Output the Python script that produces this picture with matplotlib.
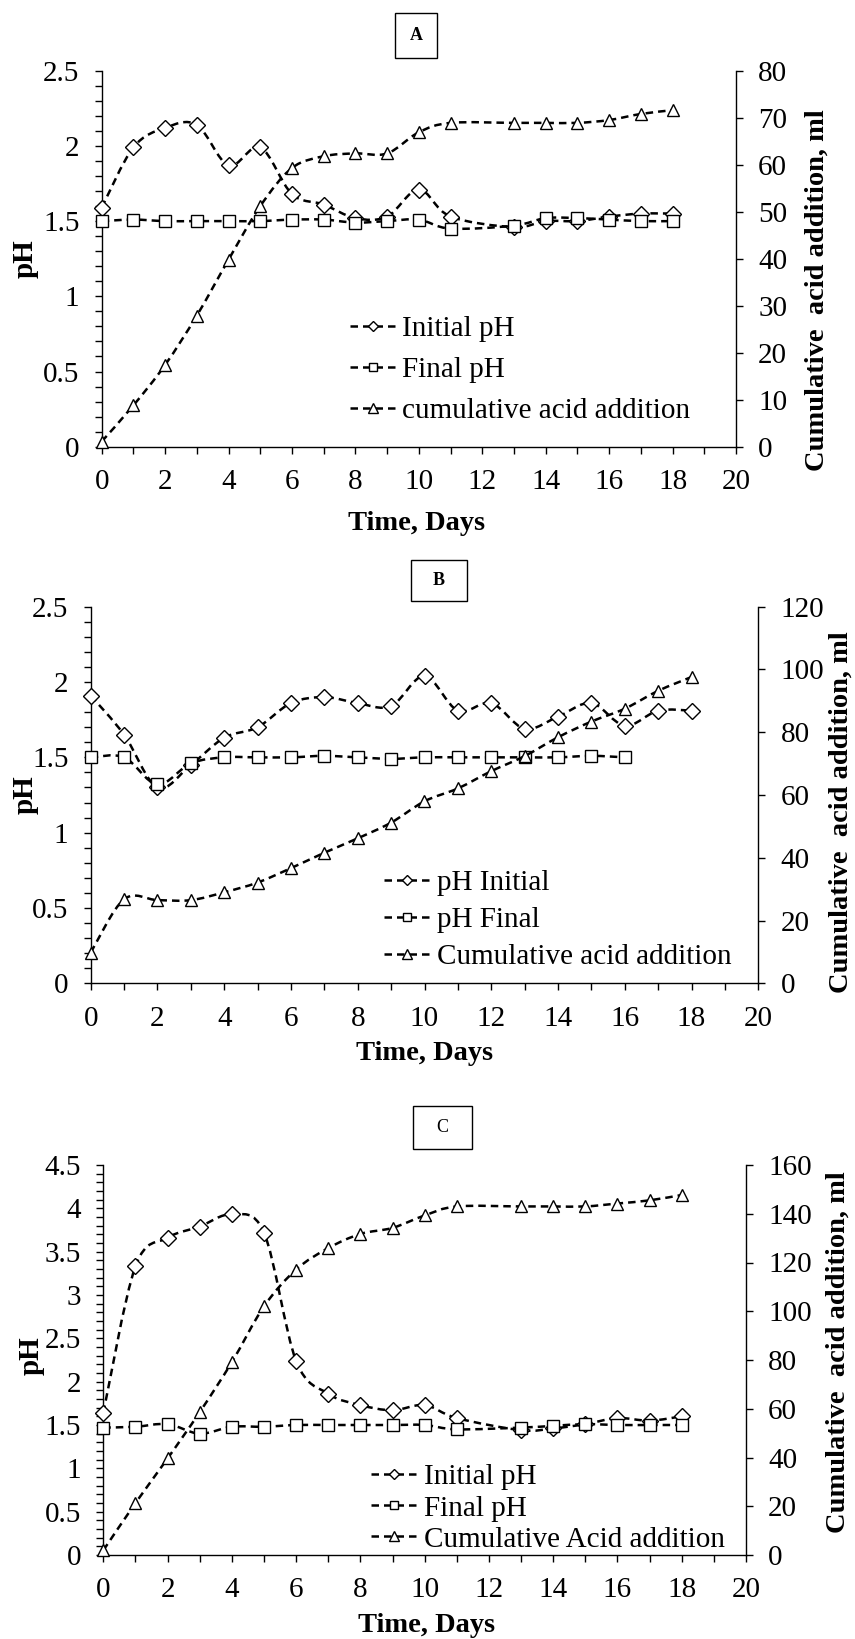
import numpy as np
import matplotlib
matplotlib.use('Agg')
import matplotlib.pyplot as plt
from matplotlib.path import Path
from matplotlib.patches import PathPatch, Rectangle
from matplotlib.lines import Line2D
from matplotlib.ticker import MultipleLocator, FormatStrFormatter

plt.rcParams['font.family'] = ['Liberation Serif', 'DejaVu Serif']

W, H = 855, 1639

# panel A (no reading on day 12)
days_a = [0, 1, 2, 3, 4, 5, 6, 7, 8, 9, 10, 11, 13, 14, 15, 16, 17, 18]
ph_init_a = [1.59, 1.99, 2.12, 2.14, 1.87, 1.99, 1.68, 1.61, 1.52, 1.53, 1.71, 1.53,
             1.46, 1.50, 1.50, 1.53, 1.55, 1.55]
ph_final_a = [1.50, 1.51, 1.50, 1.50, 1.50, 1.50, 1.51, 1.51, 1.49, 1.50, 1.51, 1.45,
              1.47, 1.52, 1.52, 1.51, 1.50, 1.50]
acid_a = [1.1, 8.8, 17.4, 27.9, 39.8, 51.2, 59.3, 61.8, 62.4, 62.4, 66.9, 68.9,
          68.9, 68.9, 68.9, 69.5, 70.8, 71.6]

# panel B
days_b = list(range(19))
days_b_final = list(range(17))
ph_init_b = [1.91, 1.65, 1.30, 1.45, 1.63, 1.70, 1.86, 1.90, 1.86, 1.84, 2.04, 1.81,
             1.86, 1.69, 1.77, 1.86, 1.71, 1.81, 1.81]
ph_final_b = [1.50, 1.50, 1.32, 1.46, 1.50, 1.50, 1.50, 1.51, 1.50, 1.49, 1.50, 1.50,
              1.50, 1.50, 1.50, 1.51, 1.50]
acid_b = [9.8, 26.8, 26.5, 26.5, 29.0, 32.1, 36.7, 41.6, 46.2, 51.2, 58.0, 62.1,
          67.6, 72.4, 78.4, 83.4, 87.5, 93.2, 97.6]

# panel C (no reading on day 12)
days_c = [0, 1, 2, 3, 4, 5, 6, 7, 8, 9, 10, 11, 13, 14, 15, 16, 17, 18]
ph_init_c = [1.64, 3.33, 3.66, 3.79, 3.93, 3.72, 2.24, 1.86, 1.73, 1.67, 1.73, 1.58,
             1.44, 1.46, 1.51, 1.58, 1.55, 1.60]
ph_final_c = [1.47, 1.48, 1.51, 1.40, 1.48, 1.48, 1.50, 1.50, 1.50, 1.50, 1.50, 1.45,
              1.47, 1.49, 1.51, 1.50, 1.50, 1.50]
acid_c = [1.9, 21.3, 39.6, 58.6, 79.1, 102.0, 117.1, 125.9, 131.7, 134.2, 139.3, 143.0,
          143.0, 143.0, 143.0, 144.2, 145.5, 147.7]

DASH = (0, (3, 2))
LW = 1.8
FS = 21


def fx(px):
    return px / W


def fy(py):
    return 1 - py / H


def smooth_path(x, y):
    # Catmull-Rom through the points, as cubic Bezier segments
    pts = np.column_stack([x, y]).astype(float)
    n = len(pts)
    verts = [pts[0]]
    codes = [Path.MOVETO]
    for i in range(n - 1):
        p0 = pts[max(i - 1, 0)]
        p1 = pts[i]
        p2 = pts[i + 1]
        p3 = pts[min(i + 2, n - 1)]
        verts += [p1 + (p2 - p0) / 6, p2 - (p3 - p1) / 6, p2]
        codes += [Path.CURVE4] * 3
    return Path(verts, codes)


def draw_series(ax, x, y, marker, ms):
    ax.add_patch(PathPatch(smooth_path(x, y), fill=False, ec='black', lw=LW,
                           ls=DASH, clip_on=False, zorder=2))
    ax.plot(x, y, ls='none', marker=marker, ms=ms, mfc='white', mec='black',
            mew=1.0, clip_on=False, zorder=3)


def make_panel(fig, box, letter, letter_box, ph_max, acid_max, acid_step, series,
               labels, leg_xy, leg_space, ph_lab, t_lab, acid_lab, letter_bold=True):
    x0, y0, x1, y1 = box
    ax = fig.add_axes([fx(x0), fy(y1), (x1 - x0) / W, (y1 - y0) / H])
    ax2 = ax.twinx()

    days, ph_init, days_f, ph_final, acid = series
    draw_series(ax, days, ph_init, 'D', 8)
    draw_series(ax, days_f, ph_final, 's', 8)
    draw_series(ax2, days, acid, '^', 9)

    ax.set_xlim(0, 20)
    ax.set_ylim(0, ph_max)
    ax2.set_ylim(0, acid_max)
    ax.xaxis.set_major_locator(MultipleLocator(2))
    ax.xaxis.set_minor_locator(MultipleLocator(1))
    ax.yaxis.set_major_locator(MultipleLocator(0.5))
    ax.yaxis.set_minor_locator(MultipleLocator(0.1))
    ax.yaxis.set_major_formatter(FormatStrFormatter('%g'))
    ax2.yaxis.set_major_locator(MultipleLocator(acid_step))

    ax.spines['top'].set_visible(False)
    ax.spines['right'].set_visible(False)
    for s in ['top', 'left', 'bottom']:
        ax2.spines[s].set_visible(False)
    for a in (ax, ax2):
        for s in a.spines.values():
            s.set_linewidth(1.0)
        a.tick_params(which='both', direction='out', length=5, width=1.0)
        a.tick_params(which='major', labelsize=FS, pad=11)

    handles = [Line2D([], [], color='black', lw=LW, ls=DASH, marker=m, ms=ms,
                      mfc='white', mec='black', mew=1.0)
               for m, ms in (('D', 5.5), ('s', 6), ('^', 6.5))]
    ax2.legend(handles, labels, loc='upper left', frameon=False, fontsize=FS,
               bbox_to_anchor=(fx(leg_xy[0]), fy(leg_xy[1])),
               bbox_transform=fig.transFigure, borderpad=0, borderaxespad=0,
               handlelength=1.6, handletextpad=0.2, labelspacing=leg_space)

    fig.text(fx(ph_lab[0]), fy(ph_lab[1]), 'pH', rotation=90, fontsize=21,
             fontweight='bold', ha='center', va='center')
    fig.text(fx(t_lab[0]), fy(t_lab[1]), 'Time, Days', fontsize=20.5,
             fontweight='bold', ha='center', va='center')
    fig.text(fx(acid_lab[0]), fy(acid_lab[1]), 'Cumulative  acid addition, ml',
             rotation=90, fontsize=20.5, fontweight='bold', ha='center', va='center')

    bx0, by0, bx1, by1 = letter_box
    fig.patches.append(Rectangle((fx(bx0), fy(by1)), (bx1 - bx0) / W, (by1 - by0) / H,
                                 transform=fig.transFigure, fill=False,
                                 ec='black', lw=1.0))
    fig.text(fx((bx0 + bx1) / 2), fy((by0 + by1) / 2), letter, fontsize=13,
             fontweight='bold' if letter_bold else 'normal', ha='center', va='center')
    return ax, ax2


fig = plt.figure(figsize=(W / 100, H / 100), dpi=100)

make_panel(fig, (101.7, 70.7, 736, 446.7), 'A', (395, 13, 437, 58), 2.5, 80, 10,
           (days_a, ph_init_a, days_a, ph_final_a, acid_a),
           ['Initial pH', 'Final pH', 'cumulative acid addition'],
           (350, 316), 0.5, (25, 259), (417, 524), (817, 290))

make_panel(fig, (90.7, 606.7, 758.3, 983.3), 'B', (411, 560, 467, 601), 2.5, 120, 20,
           (days_b, ph_init_b, days_b_final, ph_final_b, acid_b),
           ['pH Initial', 'pH Final', 'Cumulative acid addition'],
           (384, 870), 0.36, (25, 795), (425, 1054), (841, 812))

make_panel(fig, (103.3, 1165, 746, 1555), 'C', (413, 1106, 472, 1149), 4.5, 160, 20,
           (days_c, ph_init_c, days_c, ph_final_c, acid_c),
           ['Initial pH', 'Final pH', 'Cumulative Acid addition'],
           (371, 1464), 0.16, (31, 1356), (427, 1625), (838, 1352), letter_bold=False)

fig.savefig('out.png', dpi=100)
